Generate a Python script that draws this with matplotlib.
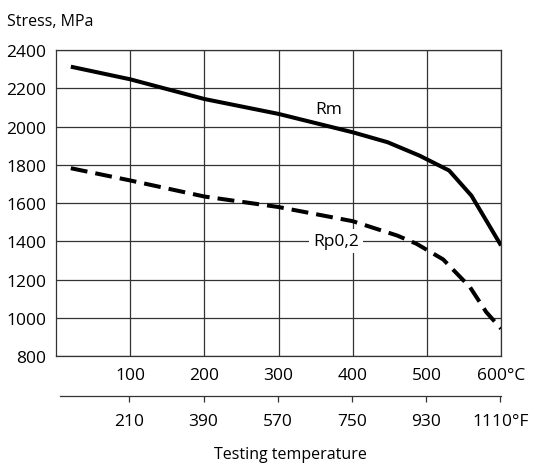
import matplotlib
matplotlib.use("Agg")
import matplotlib.pyplot as plt

plt.rcParams["font.family"] = ["Open Sans", "DejaVu Sans"]

# data (temperature in °C, stress in MPa)
rm_temp = [20, 100, 200, 300, 400, 447, 490, 530, 560, 580, 600]
rm_stress = [2313, 2247, 2144, 2066, 1970, 1918, 1848, 1770, 1639, 1509, 1378]

rp_temp = [20, 100, 200, 300, 400, 460, 486, 522, 558, 580, 600]
rp_stress = [1782, 1718, 1634, 1579, 1505, 1430, 1387, 1305, 1161, 1030, 943]

c_ticks = [100, 200, 300, 400, 500, 600]
c_labels = ["100", "200", "300", "400", "500", "600°C"]
f_ticks = [210, 390, 570, 750, 930, 1110]
f_labels = ["210", "390", "570", "750", "930", "1110°F"]
y_ticks = [800, 1000, 1200, 1400, 1600, 1800, 2000, 2200, 2400]


def c2f(c):
    return c * 9 / 5 + 32


def f2c(f):
    return (f - 32) * 5 / 9


fig = plt.figure(figsize=(5.42, 4.64), dpi=100)
ax = fig.add_axes([0.1033, 0.2306, 0.8211, 0.6594])

ax.plot(rm_temp, rm_stress, color="black", lw=2.9, solid_capstyle="butt", zorder=3)
ax.plot(rp_temp, rp_stress, color="black", lw=2.9, dashes=(4.2, 2.0), zorder=3)

ax.set_xlim(0, 600)
ax.set_ylim(800, 2400)
ax.set_xticks(c_ticks)
ax.set_xticklabels(c_labels)
ax.set_yticks(y_ticks)
ax.tick_params(axis="both", length=0, labelsize=12.5)
ax.tick_params(axis="x", pad=8)
ax.tick_params(axis="y", pad=7)
ax.grid(True, color="#333333", lw=0.9)
for s in ax.spines.values():
    s.set_color("#333333")
    s.set_linewidth(0.9)

ax.text(368, 2092, "Rm", fontsize=12.5, ha="center", va="center", zorder=4)
ax.text(378, 1400, "Rp0,2", fontsize=12.5, ha="center", va="center", zorder=4,
        bbox=dict(facecolor="white", edgecolor="none", pad=3))

sec = ax.secondary_xaxis(-0.131, functions=(c2f, f2c))
sec.set_xticks(f_ticks)
sec.set_xticklabels(f_labels)
sec.tick_params(axis="x", length=4, width=0.9, labelsize=12.5, pad=8, color="#333333")
sec.spines["bottom"].set_bounds(42, 1112)
sec.spines["bottom"].set_color("#333333")
sec.spines["bottom"].set_linewidth(0.9)

fig.text(0.013, 0.944, "Stress, MPa", fontsize=11.5, ha="left", va="baseline")
fig.text(0.5366, 0.01, "Testing temperature", fontsize=11.5, ha="center", va="baseline")

fig.savefig("out.png", dpi=100)
